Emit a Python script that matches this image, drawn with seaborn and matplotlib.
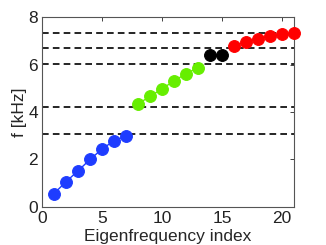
import numpy as np
import pandas as pd
import seaborn as sns
import matplotlib
matplotlib.use("Agg")
import matplotlib.pyplot as plt

# eigenfrequencies (kHz), grouped by colour
idx_blue = [1, 2, 3, 4, 5, 6, 7]
f_blue = [0.56, 1.06, 1.52, 2.0, 2.44, 2.79, 2.99]
idx_green = [8, 9, 10, 11, 12, 13]
f_green = [4.35, 4.66, 4.99, 5.31, 5.63, 5.87]
idx_black = [14, 15]
f_black = [6.41, 6.41]
idx_red = [16, 17, 18, 19, 20, 21]
f_red = [6.79, 6.96, 7.10, 7.21, 7.30, 7.34]

# horizontal dashed reference levels
levels = [3.07, 4.23, 6.04, 6.69, 7.34]

groups = [
    (idx_blue, f_blue, "#1e3cff"),
    (idx_green, f_green, "#66ee00"),
    (idx_black, f_black, "#000000"),
    (idx_red, f_red, "#ff0000"),
]

sns.set_style("white")
plt.rcParams["font.family"] = ["Liberation Sans", "DejaVu Sans"]

fig = plt.figure(figsize=(3.26, 2.45), dpi=100)
ax = fig.add_axes([0.129, 0.156, 0.773, 0.773])

for lv in levels:
    ax.axhline(lv, color="black", lw=1.2, ls=(0, (4, 2.5)), zorder=1)

for xs, ys, col in groups:
    df = pd.DataFrame({"i": xs, "f": ys})
    sns.lineplot(data=df, x="i", y="f", color=col, marker="o", markersize=8.5,
                 markeredgecolor=col, lw=1, ax=ax, zorder=3, clip_on=False)

ax.set_xlim(0, 21)
ax.set_ylim(0, 8)
ax.set_xticks([0, 5, 10, 15, 20])
ax.set_yticks([0, 2, 4, 6, 8])
ax.set_xlabel("Eigenfrequency index", fontsize=12.5, labelpad=2)
ax.set_ylabel("f [kHz]", fontsize=12.5, labelpad=1)
ax.tick_params(direction="in", length=3, width=0.6, labelsize=12.5, pad=3,
               top=True, right=True, colors="#222222")
for s in ax.spines.values():
    s.set_color("#555555")
    s.set_linewidth(0.8)

fig.savefig("out.png", dpi=100)
